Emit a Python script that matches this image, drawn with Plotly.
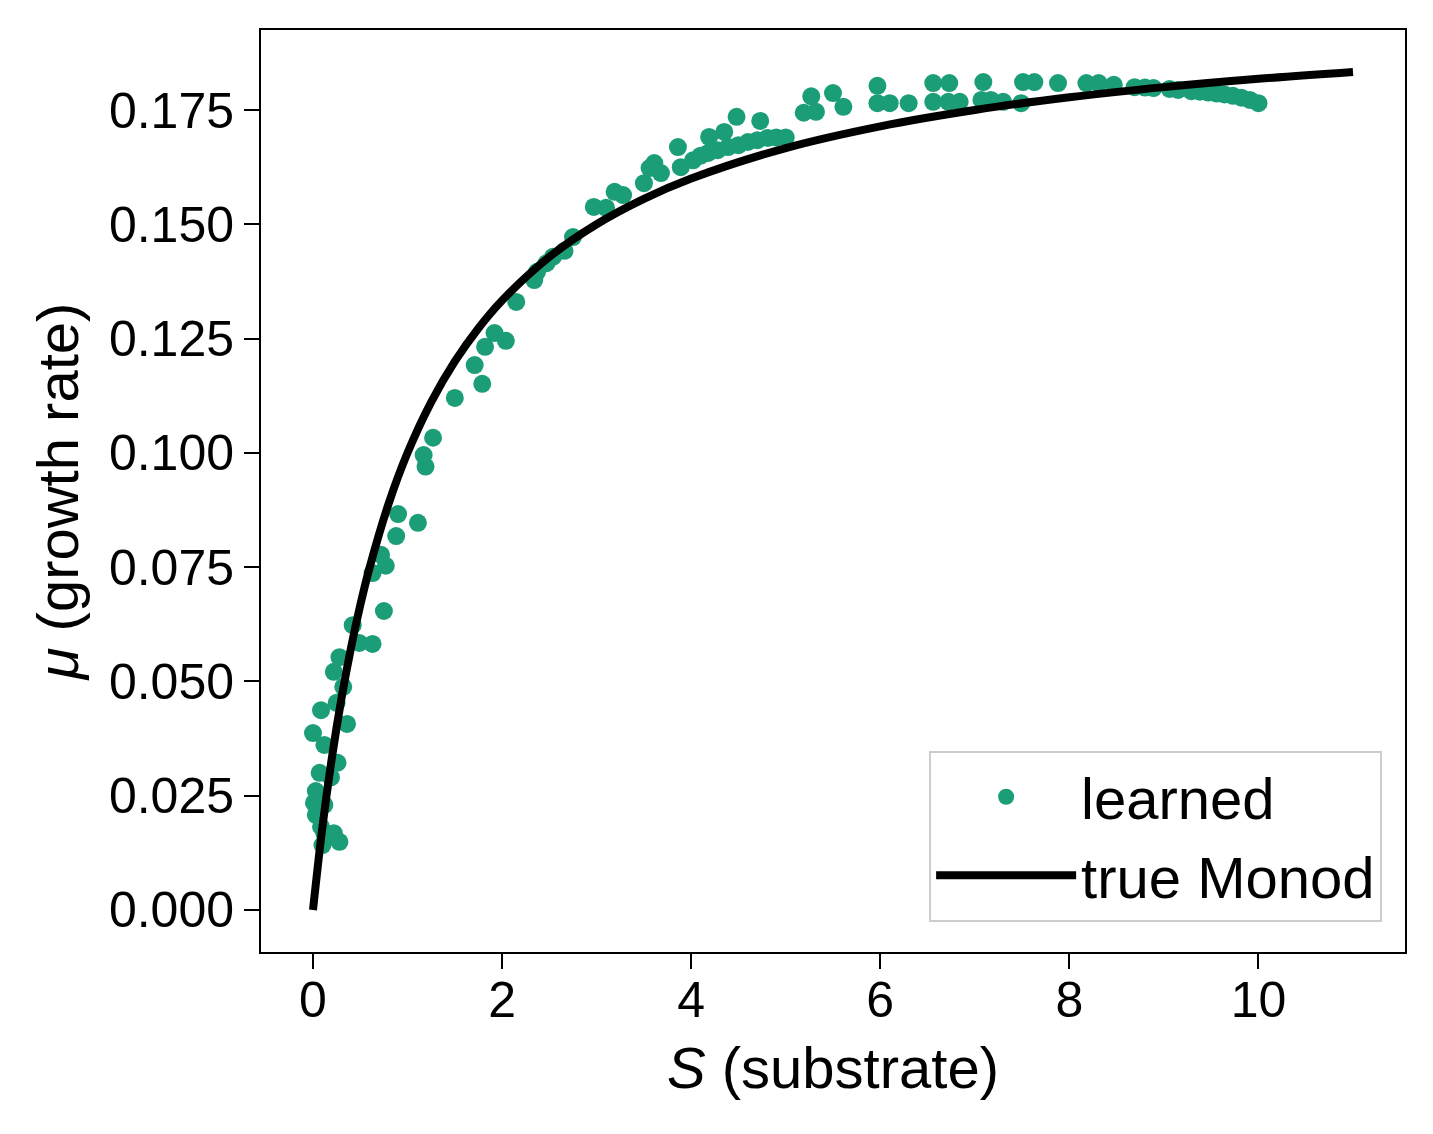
import plotly.graph_objects as go

# points appris
learned_s = [
    0.00, 0.01, 0.03, 0.03, 0.07, 0.085, 0.085, 0.10, 0.12, 0.12, 0.12, 0.19,
    0.19, 0.22, 0.22, 0.25, 0.26, 0.28, 0.28, 0.32, 0.36, 0.42, 0.49, 0.63,
    0.63, 0.72, 0.75, 0.77, 0.88, 0.90, 1.11, 1.17, 1.19, 1.27, 1.50, 1.71,
    1.79, 1.82, 1.92, 2.04, 2.15, 2.34, 2.37, 2.47, 2.54, 2.66, 2.75, 2.97,
    3.10, 3.19, 3.28, 3.50, 3.56, 3.61, 3.68, 3.86, 3.89, 4.02, 4.10, 4.18,
    4.19, 4.28, 4.35, 4.39, 4.48, 4.50, 4.60, 4.70, 4.73, 4.81, 4.90, 5.00,
    5.19, 5.27, 5.32, 5.50, 5.61, 5.97, 5.97, 6.10, 6.30, 6.56, 6.56, 6.72,
    6.73, 6.84, 7.07, 7.09, 7.17, 7.30, 7.49, 7.51, 7.63, 7.88, 8.18, 8.31,
    8.47, 8.69, 8.80, 8.89, 9.06, 9.15, 9.29, 9.38, 9.47, 9.56, 9.64, 9.73,
    9.82, 9.91, 10.00,
]
learned_mu = [
    0.0387, 0.0234, 0.0260, 0.0208, 0.0300, 0.0437, 0.0182, 0.0142, 0.0361,
    0.0230, 0.0168, 0.0290, 0.0160, 0.0521, 0.0168, 0.0453, 0.0322, 0.0553,
    0.0149, 0.0488, 0.0407, 0.0623, 0.0584, 0.0582, 0.0737, 0.0777, 0.0654,
    0.0753, 0.0818, 0.0866, 0.0847, 0.0995, 0.0970, 0.1033, 0.1120, 0.1192,
    0.1151, 0.1232, 0.1262, 0.1245, 0.1330, 0.1378, 0.1396, 0.1415, 0.1429,
    0.1442, 0.1472, 0.1538, 0.1536, 0.1571, 0.1564, 0.1590, 0.1623, 0.1634,
    0.1612, 0.1669, 0.1625, 0.1640, 0.1650, 0.1656, 0.1691, 0.1662, 0.1702,
    0.1669, 0.1735, 0.1673, 0.1680, 0.1684, 0.1726, 0.1689, 0.1690, 0.1690,
    0.1744, 0.1780, 0.1746, 0.1787, 0.1757, 0.1803, 0.1765, 0.1765, 0.1765,
    0.1809, 0.1768, 0.1768, 0.1809, 0.1768, 0.1772, 0.1811, 0.1772, 0.1768,
    0.1765, 0.1811, 0.1811, 0.1809, 0.1809, 0.1809, 0.1805, 0.1800, 0.1799,
    0.1798, 0.1796, 0.1794, 0.1791, 0.1790, 0.1788, 0.1786, 0.1784, 0.1781,
    0.1777, 0.1772, 0.1765,
]

# courbe de Monod vraie
monod_s = [0, 0.1, 0.2, 0.3, 0.4, 0.5, 0.6, 0.8, 1.0, 1.25, 1.5, 1.75, 2, 2.5,
           3, 3.5, 4, 5, 6, 7, 8, 9, 10, 11]
monod_mu = [0.0, 0.01818, 0.03333, 0.04615, 0.05714, 0.06667, 0.075, 0.08889,
            0.1, 0.1111, 0.12, 0.12727, 0.13333, 0.14286, 0.15, 0.15556, 0.16,
            0.16667, 0.17143, 0.175, 0.17778, 0.18, 0.18182, 0.18333]

x_ticks = [0, 2, 4, 6, 8, 10]
y_ticks = [0.0, 0.025, 0.05, 0.075, 0.1, 0.125, 0.15, 0.175]

fig = go.Figure()
fig.add_trace(go.Scatter(
    x=learned_s, y=learned_mu, mode="markers", name="learned",
    marker=dict(color="#1b9e77", size=18, line=dict(width=0)),
))
fig.add_trace(go.Scatter(
    x=monod_s, y=monod_mu, mode="lines", name="true Monod",
    line=dict(color="black", width=8, shape="spline"),
))

axis_style = dict(
    showgrid=False, zeroline=False, showline=True, linecolor="black",
    linewidth=2, mirror=True, ticks="outside", ticklen=15, tickwidth=2,
    tickcolor="black", tickfont=dict(size=50, color="black"),
)
fig.update_xaxes(
    range=[-0.55, 11.55], tickvals=x_ticks, ticklabelstandoff=-12,
    title=dict(text="<i>S</i> (substrate)", font=dict(size=58, color="black"),
               standoff=20),
    **axis_style,
)
fig.update_yaxes(
    range=[-0.0092, 0.1925], tickvals=y_ticks, tickformat=".3f",
    title=dict(text="<i>μ</i> (growth rate)", font=dict(size=58, color="black"),
               standoff=12),
    **axis_style,
)

fig.update_layout(
    width=1433, height=1134,
    margin=dict(l=253, r=36, t=22, b=190),
    plot_bgcolor="white", paper_bgcolor="white",
    font=dict(family="Liberation Sans, Arial, sans-serif", color="black"),
    legend=dict(
        x=0.98, y=0.033, xanchor="right", yanchor="bottom",
        bgcolor="rgba(255,255,255,0.8)", bordercolor="#cccccc", borderwidth=2,
        font=dict(size=58), itemsizing="trace", itemwidth=140,
    ),
)

fig.write_html("out.html")
